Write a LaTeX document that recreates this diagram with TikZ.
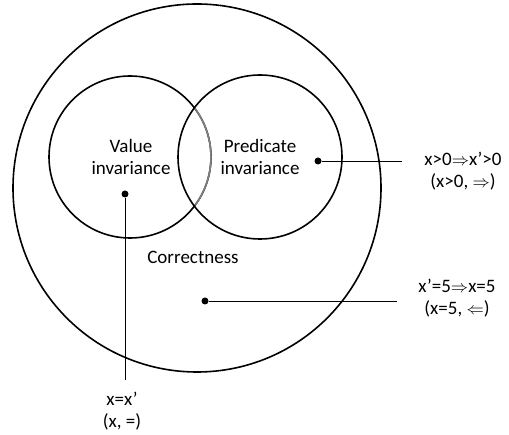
\documentclass[tikz,border=0pt]{standalone}
\usepackage{fontspec}
\setmainfont{Carlito}
\usetikzlibrary{positioning}
\begin{document}
\begin{tikzpicture}[x=1pt,y=-1pt,font=\fontsize{19}{22.5}\selectfont,
  ring/.style={draw=black, line width=1.6pt},
  dotmark/.style={circle, fill=black, inner sep=0pt, minimum size=7pt},
  lead/.style={draw=black, line width=0.8pt},
  ]
  \useasboundingbox (0,0) rectangle (509,435);

  %%% circles %%%
  \draw[ring] (197,188) circle[radius=184];
  \draw[ring] (130,157) circle[radius=81];
  \draw[ring] (260,157) circle[radius=82];
  \draw[ring, draw=gray] (195,108.6) arc[start angle=-36.6, end angle=36.6, radius=81];

  %%% region names %%%
  \node[align=center] (valtxt)  at (131,157) {Value\\invariance};
  \node[align=center] (predtxt) at (260,157) {Predicate\\invariance};
  \node (corrtxt) at (193,257) {Correctness};

  %%% dots %%%
  \node[dotmark] (valdot)  at (125,194) {};
  \node[dotmark] (preddot) at (318,161) {};
  \node[dotmark] (corrdot) at (205,301) {};

  %%% outer labels %%%
  \node[align=center] (predlbl) at (463,171) {x>0$\Rightarrow$x’>0\\(x>0, $\Rightarrow$)};
  \node[align=center] (corrlbl) at (457,298) {x’=5$\Rightarrow$x=5\\(x=5, $\Leftarrow$)};
  \node[align=center] (vallbl)  at (122,411) {x=x’\\(x, =)};

  %%% leaders %%%
  \coordinate (predend) at (402,161);
  \coordinate (corrend) at (397,301);
  \coordinate (valend)  at (125,380);
  \draw[lead] (preddot) -- (predend);
  \draw[lead] (corrdot) -- (corrend);
  \draw[lead] (valdot) -- (valend);
\end{tikzpicture}
\end{document}
